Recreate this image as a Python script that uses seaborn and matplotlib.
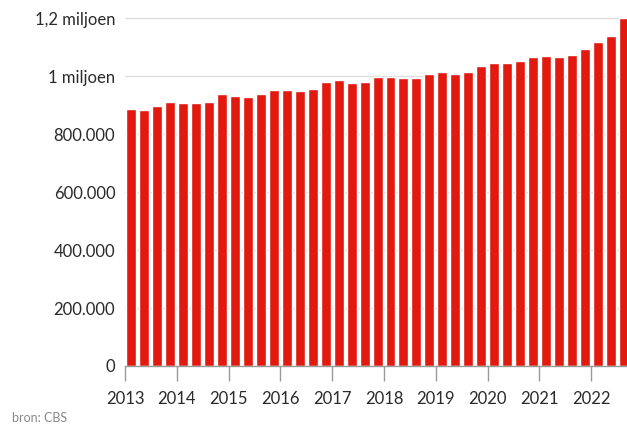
"""
Aantal (kwartaal) - staafdiagram, bron CBS
"""

import numpy as np
import pandas as pd
import matplotlib
matplotlib.use('Agg')
import matplotlib.pyplot as plt
import seaborn as sns

# Data: one value per quarter, 2013 Q1 - 2022 Q3
years = list(range(2013, 2023))
quarters = [f'{y}-Q{q}' for y in years for q in range(1, 5)][:39]
values = [
    887000, 884000, 898000, 911000, 907000, 907000, 913000, 938000,
    932000, 928000, 939000, 952000, 952000, 949000, 957000, 979000,
    986000, 976000, 980000, 997000, 999000, 995000, 994000, 1010000,
    1015000, 1009000, 1015000, 1036000, 1046000, 1046000, 1052000, 1068000,
    1069000, 1068000, 1075000, 1096000, 1120000, 1141000, 1203000,
]
y_ticks = [0, 200000, 400000, 600000, 800000, 1000000, 1200000]
y_labels = ['0', '200.000', '400.000', '600.000', '800.000', '1 miljoen', '1,2 miljoen']

df = pd.DataFrame({'kwartaal': quarters, 'waarde': values})

sns.set_style('white')
plt.rcParams['font.family'] = ['Lato', 'DejaVu Sans']

fig = plt.figure(figsize=(6.27, 4.26), dpi=100)
ax = fig.add_axes([125 / 627, 60 / 426, 502 / 627, 362 / 426])

sns.barplot(data=df, x='kwartaal', y='waarde', color='#e2190f',
            saturation=1, width=0.77, ax=ax, zorder=3)

# Axes styling
ax.set_xlim(-0.5, 38.26)
ax.set_ylim(0, 1250000)
ax.set_xlabel('')
ax.set_ylabel('')

ax.set_yticks(y_ticks)
ax.set_yticklabels(y_labels, fontsize=12, color='#2a2a2a')
ax.tick_params(axis='y', length=0, pad=7)
ax.grid(axis='y', color='#dddddd', linewidth=1, zorder=0)

ax.set_xticks([i * 4 - 0.5 for i in range(len(years))])
ax.set_xticklabels([str(y) for y in years], fontsize=12, color='#2a2a2a')
ax.tick_params(axis='x', length=11, width=1, color='#999999', pad=7, bottom=True)

for side in ['top', 'right', 'left']:
    ax.spines[side].set_visible(False)
ax.spines['bottom'].set_color('#999999')
ax.spines['bottom'].set_linewidth(1)
ax.spines['bottom'].set_zorder(4)

fig.text(12 / 627, 1 - 418 / 426, 'bron: CBS', fontsize=9, color='#888888',
         ha='left', va='center')

plt.savefig('out.png', dpi=100)
plt.close()
